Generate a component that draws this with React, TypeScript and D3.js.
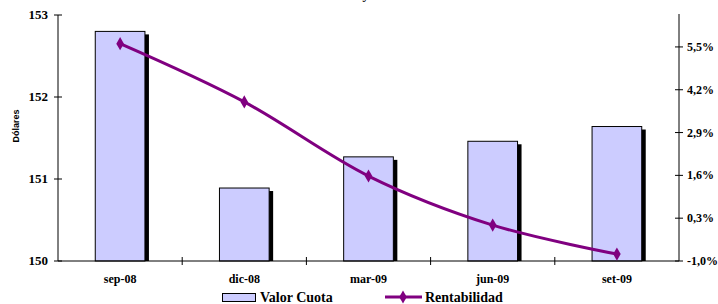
import React, { useEffect, useRef } from "react"
import * as d3 from "d3"

const categories = ["sep-08", "dic-08", "mar-09", "jun-09", "set-09"]
const valorCuota = [152.8, 150.89, 151.27, 151.46, 151.64]
const rentabilidad = [5.6, 3.83, 1.58, 0.09, -0.79]
const leftTicks = [150, 151, 152, 153]
const rightTicks = [-1.0, 0.3, 1.6, 2.9, 4.2, 5.5]

const W = 718
const H = 304
const serif = "Liberation Serif"
const sans = "Liberation Sans"
const purple = "#800080"

export default function App() {
    const ref = useRef<SVGSVGElement>(null)

    useEffect(() => {
        const svg = d3.select(ref.current)
        svg.selectAll("*").remove()

        const left = 58, right = 679, top = 15, bottom = 261

        const x = d3.scaleBand().domain(categories).range([left, right])
        const yL = d3.scaleLinear().domain([150, 153]).range([bottom, top])
        const yR = d3.scaleLinear().domain([-1.0, 6.5]).range([bottom, top - 1])

        const serifText = (sel: any, size: number) =>
            sel.attr("font-family", serif).attr("font-weight", "bold").attr("font-size", size)

        // title, cut off at top of picture
        serifText(svg.append("text")
            .attr("x", 368).attr("y", -1)
            .attr("text-anchor", "middle"), 13)
            .text("Valor Cuota y Rentabilidad")

        // bars with shadow
        const bw = x.bandwidth() * 0.4
        const bars = svg.append("g")
        categories.forEach((c, i) => {
            const bx = x(c)! + x.bandwidth() / 2 - bw / 2
            const by = yL(valorCuota[i])
            bars.append("rect")
                .attr("x", bx + 4).attr("y", by + 3)
                .attr("width", bw).attr("height", bottom - by - 3)
                .attr("fill", "#000")
            bars.append("rect")
                .attr("x", bx).attr("y", by)
                .attr("width", bw).attr("height", bottom - by)
                .attr("fill", "#CCCCFF").attr("stroke", "#000").attr("stroke-width", 1)
        })

        // axes
        const ax = svg.append("g").attr("stroke", "#000").attr("stroke-width", 1)
        ax.append("line").attr("x1", left).attr("x2", left).attr("y1", top).attr("y2", bottom)
        ax.append("line").attr("x1", right).attr("x2", right).attr("y1", top - 1).attr("y2", bottom)
        ax.append("line").attr("x1", left).attr("x2", right).attr("y1", bottom).attr("y2", bottom)

        leftTicks.forEach(t => {
            ax.append("line").attr("x1", left - 4).attr("x2", left + 4)
                .attr("y1", yL(t)).attr("y2", yL(t))
            serifText(svg.append("text")
                .attr("x", left - 10).attr("y", yL(t) + 4)
                .attr("text-anchor", "end"), 13)
                .text(t)
        })

        rightTicks.forEach(t => {
            ax.append("line").attr("x1", right - 4).attr("x2", right + 4)
                .attr("y1", yR(t)).attr("y2", yR(t))
            serifText(svg.append("text")
                .attr("x", right + 8).attr("y", yR(t) + 4), 12)
                .text(t.toFixed(1).replace(".", ",") + "%")
        })

        categories.forEach(c => {
            const bx = x(c)! + x.bandwidth()
            if (bx < right - 1) {
                ax.append("line").attr("x1", bx).attr("x2", bx)
                    .attr("y1", bottom - 4).attr("y2", bottom + 4)
            }
            serifText(svg.append("text")
                .attr("x", x(c)! + x.bandwidth() / 2).attr("y", 283)
                .attr("text-anchor", "middle"), 12)
                .text(c)
        })

        // y label
        svg.append("text")
            .attr("transform", "translate(19, 126) rotate(-90)")
            .attr("text-anchor", "middle")
            .attr("font-family", sans).attr("font-weight", "bold").attr("font-size", 9)
            .text("Dólares")

        // line
        const line = d3.line<number>()
            .x((d, i) => x(categories[i])! + x.bandwidth() / 2)
            .y(d => yR(d))
            .curve(d3.curveCatmullRom.alpha(0))

        svg.append("path")
            .datum(rentabilidad)
            .attr("fill", "none")
            .attr("stroke", purple)
            .attr("stroke-width", 3)
            .attr("d", line)

        const diamond = d3.symbol().type(d3.symbolDiamond).size(50)
        svg.selectAll("path.marker")
            .data(rentabilidad)
            .enter()
            .append("path")
            .attr("class", "marker")
            .attr("d", diamond)
            .attr("transform", (d, i) => `translate(${x(categories[i])! + x.bandwidth() / 2}, ${yR(d)})`)
            .attr("fill", purple)

        // legend
        const lg = svg.append("g")
        lg.append("rect").attr("x", 222.5).attr("y", 293.5).attr("width", 33).attr("height", 8)
            .attr("fill", "#CCCCFF").attr("stroke", "#000")
        serifText(lg.append("text").attr("x", 260).attr("y", 302), 14)
            .text("Valor Cuota")
        lg.append("line").attr("x1", 385).attr("x2", 422).attr("y1", 297).attr("y2", 297)
            .attr("stroke", purple).attr("stroke-width", 3)
        lg.append("path").attr("d", diamond).attr("transform", "translate(403, 297)").attr("fill", purple)
        serifText(lg.append("text").attr("x", 425).attr("y", 302), 14)
            .text("Rentabilidad")
    }, [])

    return (
        <svg ref={ref} width={W} height={H}
            style={{ position: "absolute", left: 0, top: 0, background: "#fff" }} />
    )
}
